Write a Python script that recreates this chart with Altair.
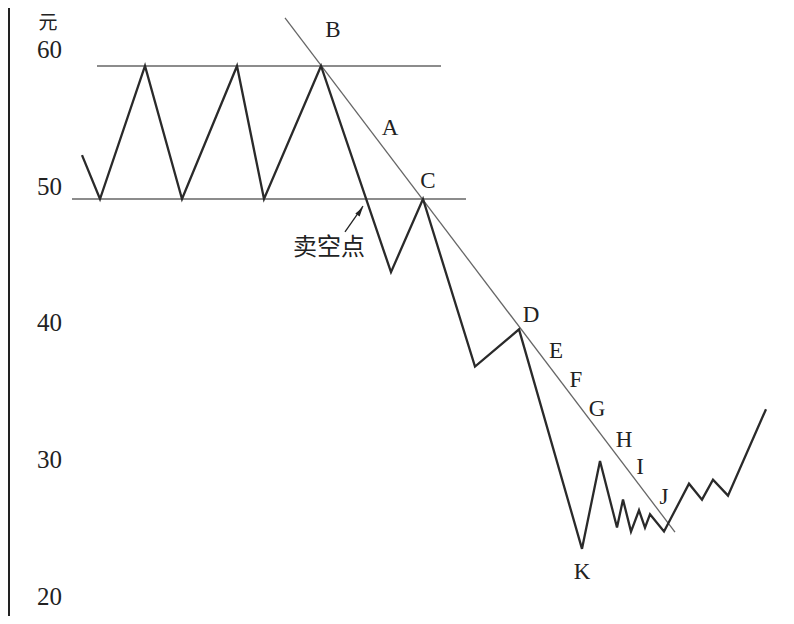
import altair as alt
import pandas as pd

# price path (time index, price in 元)
price_t = [74, 92, 137, 174, 229, 256, 313, 383, 415, 467, 511, 574, 592, 609, 615,
           623, 631, 637, 642, 656, 681, 694, 705, 720, 758]
price_v = [53.3, 50.0, 60.0, 50.0, 60.0, 50.0, 60.0, 44.5, 50.0, 37.4, 40.2, 23.7, 30.3,
           25.3, 27.4, 25.0, 26.6, 25.3, 26.3, 25.0, 28.6, 27.4, 28.9, 27.7, 34.2]

# horizontal range lines
hline_v = [60, 50]
hline_t1 = [89, 64]
hline_t2 = [433, 458]

# downtrend line
trend_t = [277, 667]
trend_v = [63.61, 24.96]

# point letters
letters = ["B", "A", "C", "D", "E", "F", "G", "H", "I", "J", "K"]
letter_t = [325, 382, 420, 523, 548, 568, 589, 616, 632, 656, 574]
letter_v = [62.71, 55.34, 51.35, 41.28, 38.57, 36.39, 34.21, 31.88, 29.85, 27.59, 21.95]

# sell-short annotation
note_text = ["卖空点"]
note_t = [321]
note_v = [46.3]
arrow_t = [337, 355]
arrow_v = [47.52, 49.47]

# unit label
unit_text = ["元"]
unit_t = [40]
unit_v = [63.22]

# y tick labels
tick_vals = [60, 50, 40, 30, 20]

W, H = 778, 608
xs = alt.Scale(domain=[0, 778], nice=False, zero=False)
ys = alt.Scale(domain=[18.65, 64.36], nice=False, zero=False)
ys_tick = alt.Scale(domain=[18.61, 63.07], nice=False, zero=False)

price_df = pd.DataFrame({"t": price_t, "v": price_v, "o": list(range(len(price_t)))})
hline_df = pd.DataFrame({"t": hline_t1, "t2": hline_t2, "v": hline_v})
trend_df = pd.DataFrame({"t": [trend_t[0]], "t2": [trend_t[1]], "v": [trend_v[0]], "v2": [trend_v[1]]})
letter_df = pd.DataFrame({"t": letter_t, "v": letter_v, "lab": letters})
note_df = pd.DataFrame({"t": note_t, "v": note_v, "lab": note_text})
unit_df = pd.DataFrame({"t": unit_t, "v": unit_v, "lab": unit_text})
arrow_df = pd.DataFrame({"t": [arrow_t[0]], "t2": [arrow_t[1]], "v": [arrow_v[0]], "v2": [arrow_v[1]]})
head_df = pd.DataFrame({"t": [352.2], "v": [49.09]})
tick_df = pd.DataFrame({"v": tick_vals, "lab": [str(v) for v in tick_vals]})

axis_line = alt.Chart(pd.DataFrame({"v": [0]})).mark_rule(color="#222", strokeWidth=2).encode(
    x=alt.value(1), y=alt.value(0), y2=alt.value(H))

hlines = alt.Chart(hline_df).mark_rule(color="#666", strokeWidth=1.3).encode(
    x=alt.X("t:Q", scale=xs, axis=None), x2="t2:Q",
    y=alt.Y("v:Q", scale=ys, axis=None))

trend = alt.Chart(trend_df).mark_rule(color="#666", strokeWidth=1.3).encode(
    x=alt.X("t:Q", scale=xs, axis=None), x2="t2:Q",
    y=alt.Y("v:Q", scale=ys, axis=None), y2="v2:Q")

price = alt.Chart(price_df).mark_line(color="#2a2a2a", strokeWidth=2.3, strokeJoin="miter").encode(
    x=alt.X("t:Q", scale=xs, axis=None),
    y=alt.Y("v:Q", scale=ys, axis=None), order="o:Q")

ltxt = alt.Chart(letter_df).mark_text(font="Liberation Serif", fontSize=23, color="#222",
                                      baseline="middle", align="center").encode(
    x=alt.X("t:Q", scale=xs, axis=None),
    y=alt.Y("v:Q", scale=ys, axis=None), text="lab:N")

ntxt = alt.Chart(note_df).mark_text(font="Noto Sans CJK SC", fontSize=24, color="#222",
                                    baseline="middle", align="center").encode(
    x=alt.X("t:Q", scale=xs, axis=None),
    y=alt.Y("v:Q", scale=ys, axis=None), text="lab:N")

utxt = alt.Chart(unit_df).mark_text(font="Noto Sans CJK SC", fontSize=19, color="#222",
                                    baseline="middle", align="center").encode(
    x=alt.X("t:Q", scale=xs, axis=None),
    y=alt.Y("v:Q", scale=ys, axis=None), text="lab:N")

arrow = alt.Chart(arrow_df).mark_rule(color="#222", strokeWidth=1.3).encode(
    x=alt.X("t:Q", scale=xs, axis=None), x2="t2:Q",
    y=alt.Y("v:Q", scale=ys, axis=None), y2="v2:Q")

head = alt.Chart(head_df).mark_point(shape="M0,-1L0.55,1L-0.55,1Z", filled=True, color="#222",
                                     opacity=1, size=90, angle=35).encode(
    x=alt.X("t:Q", scale=xs, axis=None),
    y=alt.Y("v:Q", scale=ys, axis=None))

main = alt.layer(hlines, trend, price, ltxt, ntxt, utxt, arrow, head)

ticks = alt.Chart(tick_df).mark_text(font="Liberation Serif", fontSize=25, color="#222",
                                     baseline="middle", align="left").encode(
    x=alt.value(29),
    y=alt.Y("v:Q", scale=ys_tick, axis=None), text="lab:N")

chart = alt.layer(axis_line, main, ticks).resolve_scale(y="independent").properties(
    width=W, height=H, autosize=alt.AutoSizeParams(type="none"),
    padding=0, background="white"
).configure_view(strokeWidth=0)

chart.save("out.html", embed_options={"renderer": "svg", "actions": False})
